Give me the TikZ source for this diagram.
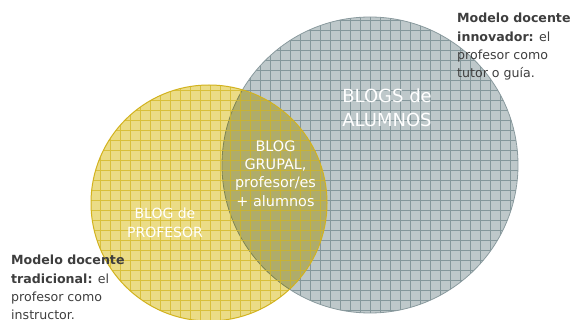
\documentclass[tikz,border=0pt]{standalone}
\usepackage{fontspec}
\setmainfont{DejaVu Sans}
\usetikzlibrary{calc}
\definecolor{grayfill}{HTML}{BEC8CA}
\definecolor{graygrid}{HTML}{84979B}
\definecolor{grayedge}{HTML}{8A9A9E}
\definecolor{yelfill}{HTML}{EBDC86}
\definecolor{yelgrid}{HTML}{D6BC2E}
\definecolor{yeledge}{HTML}{D2B21E}
\definecolor{txt}{HTML}{3E3E3E}
\tikzset{
  note/.style={anchor=north west, inner sep=0pt, align=left, text=txt, font=\fontsize{12.6}{18.3}\selectfont},
  inlabel/.style={inner sep=0pt, align=center, text=white},
}
\begin{document}
\begin{tikzpicture}[x=1pt,y=-1pt]
\useasboundingbox (0,0) rectangle (572,320);
\coordinate (G) at (370,165);
\coordinate (Y) at (209,203);
% gray circle
\begin{scope}
  \clip (G) circle (148pt);
  \fill[grayfill] (G) circle (148pt);
  \draw[graygrid, line width=0.6pt, step=10pt] (210,10) grid (530,320);
\end{scope}
\draw[grayedge, line width=0.8pt] (G) circle (148pt);
% yellow circle
\begin{scope}
  \clip (Y) circle (118pt);
  \fill[yelfill, blend mode=multiply] (Y) circle (118pt);
  \draw[yelgrid, line width=0.6pt, step=10pt, opacity=0.85] (85,80) grid (335,325);
\end{scope}
\draw[yeledge, line width=1pt] (Y) circle (118pt);
% labels
\node[inlabel, font=\fontsize{18}{24}\selectfont] (alum) at (387,108) {BLOGS de\\ALUMNOS};
\node[inlabel, font=\fontsize{14.4}{18.3}\selectfont] (grup) at (275.5,173.5) {BLOG\\GRUPAL,\\profesor/es\\+ alumnos};
\node[inlabel, font=\fontsize{14}{19}\selectfont] (prof) at (165,222.5) {BLOG de\\PROFESOR};
% notes
\node[note] (trad) at (11,255) {\textbf{Modelo docente}\\\textbf{tradicional:} el\\profesor como\\instructor.};
\node[note] (inno) at (457,13) {\textbf{Modelo docente}\\\textbf{innovador:} el\\profesor como\\tutor o guía.};
\end{tikzpicture}
\end{document}
